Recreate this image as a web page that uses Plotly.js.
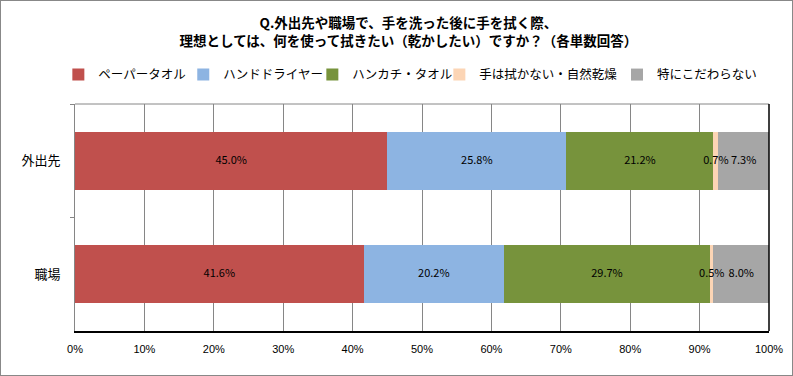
<!DOCTYPE html>
<html><head><meta charset="utf-8">
<script src="https://cdn.plot.ly/plotly-3.0.1.min.js"></script>
<style>
html,body{margin:0;padding:0;background:#fff;}
#chart{width:791px;height:374px;border:1px solid #888;}
</style></head><body>
<div id="chart"></div>
<script>
const categories = ['外出先', '職場'];
const seriesNames = ['ペーパータオル', 'ハンドドライヤー', 'ハンカチ・タオル', '手は拭かない・自然乾燥', '特にこだわらない'];
const paperTowel = [45.0, 41.6];
const handDryer = [25.8, 20.2];
const handkerchief = [21.2, 29.7];
const noWipe = [0.7, 0.5];
const noPreference = [7.3, 8.0];
const colors = ['#C0504D', '#8DB4E2', '#77933C', '#FCD5B5', '#A6A6A6'];
const xTicks = [0, 10, 20, 30, 40, 50, 60, 70, 80, 90, 100];
const xTickLabels = xTicks.map(v => v + '%');

const jp = '"Noto Sans CJK JP", "Noto Sans", sans-serif';
const values = [paperTowel, handDryer, handkerchief, noWipe, noPreference];
const legendIds = ['legend', 'legend2', 'legend3', 'legend4', 'legend5'];
const traces = values.map((vals, i) => ({
  type: 'bar', orientation: 'h',
  name: seriesNames[i], x: vals, y: categories,
  marker: {color: colors[i]},
  width: 0.51,
  textposition: 'none',
  hoverinfo: 'none',
  legend: legendIds[i]
}));

// data labels: centred on each segment, computed from the series values
const labelX = [], labelY = [], labelText = [];
categories.forEach((c, ci) => {
  let cum = 0;
  values.forEach(vals => {
    const v = vals[ci];
    labelX.push(cum + v / 2);
    labelY.push(c);
    labelText.push(v.toFixed(1) + '%');
    cum += v;
  });
});
traces.push({
  type: 'scatter', mode: 'text', x: labelX, y: labelY, text: labelText,
  textposition: 'middle center', cliponaxis: false,
  textfont: {family: jp, size: 11, color: '#000'},
  showlegend: false, hoverinfo: 'none'
});

// legend entry positions (paper fraction of plot width)
const legendX = [-0.024, 0.156, 0.342, 0.525, 0.781];
const legendCommon = {
  orientation: 'h', xanchor: 'left', y: 1.128, yanchor: 'middle',
  font: {family: jp, size: 12.5, color: '#000'}, itemwidth: 30,
  bgcolor: 'rgba(0,0,0,0)', borderwidth: 0
};

const layout = {
  width: 791, height: 374,
  margin: {l: 74, r: 23, t: 103, b: 44},
  barmode: 'stack', bargap: 0.49,
  paper_bgcolor: '#fff', plot_bgcolor: '#fff',
  font: {family: jp, color: '#000'},
  title: {
    text: '<b>Q.外出先や職場で、手を洗った後に手を拭く際、<br>理想としては、何を使って拭きたい（乾かしたい）ですか？（各単数回答）</b>',
    font: {family: jp, size: 13.5, color: '#000'},
    x: 0.515, xref: 'container', xanchor: 'center', y: 0.927, yref: 'container', yanchor: 'top'
  },
  xaxis: {
    range: [0, 100], tickvals: xTicks, ticktext: xTickLabels,
    tickfont: {family: 'Liberation Sans, Arial, sans-serif', size: 11, color: '#000'},
    showgrid: true, gridcolor: '#868686', gridwidth: 1,
    showline: true, linecolor: '#000', linewidth: 1.5,
    ticks: 'outside', ticklen: 7, tickcolor: 'rgba(0,0,0,0)', zeroline: false,
    fixedrange: true
  },
  yaxis: {
    autorange: 'reversed', tickson: 'boundaries',
    ticks: 'outside', ticklen: 4, tickcolor: '#868686',
    showline: true, linecolor: '#868686', linewidth: 1,
    tickfont: {family: jp, size: 13, color: '#000'},
    ticklabelstandoff: 11,
    showgrid: false, fixedrange: true
  },
  shapes: [
    {type: 'line', xref: 'paper', yref: 'paper', x0: 0, x1: 1, y0: 1, y1: 1, line: {color: '#868686', width: 1}},
    {type: 'line', xref: 'paper', yref: 'paper', x0: 1, x1: 1, y0: 0, y1: 1, line: {color: '#000', width: 1.5}}
  ],
  showlegend: true
};
legendIds.forEach((id, i) => { layout[id] = Object.assign({x: legendX[i]}, legendCommon); });
Plotly.newPlot('chart', traces, layout, {displayModeBar: false, staticPlot: true});
</script></body></html>
